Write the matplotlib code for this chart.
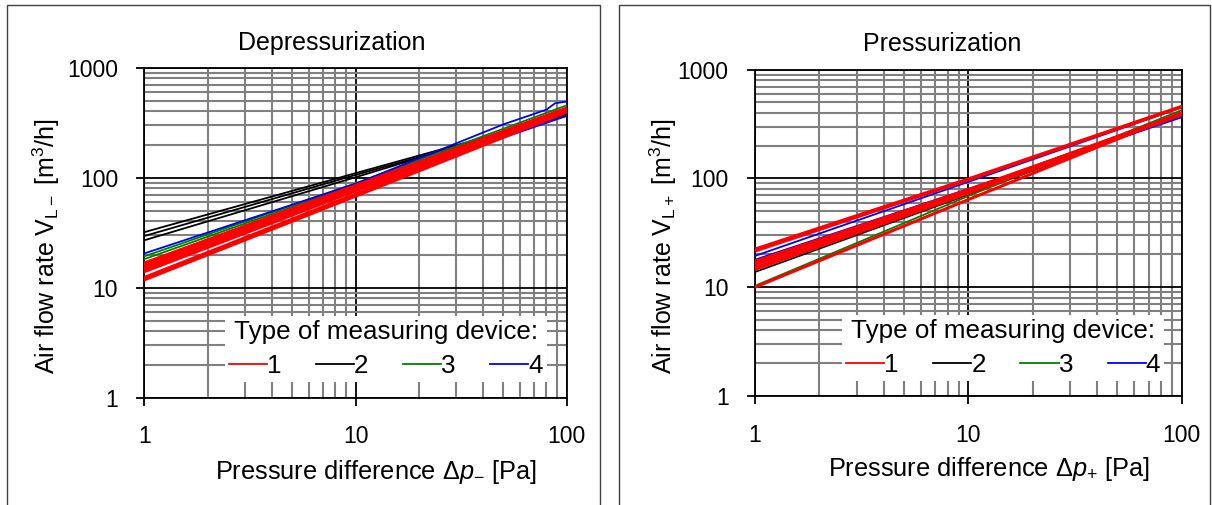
import matplotlib
matplotlib.use("Agg")
import matplotlib.pyplot as plt
from matplotlib.lines import Line2D
from matplotlib.patches import Rectangle
from matplotlib.ticker import FixedLocator, NullFormatter

plt.rcParams["font.family"] = ["Liberation Sans", "DejaVu Sans"]
plt.rcParams["mathtext.fontset"] = "custom"
plt.rcParams["mathtext.rm"] = "Liberation Sans"
plt.rcParams["mathtext.it"] = "Liberation Sans:italic"

# pressure differences [Pa] where values were read
DP = [1, 10, 100]

# Depressurization: air flow rate [m3/h] at DP, one list per measurement
dep_type1 = [[16.8, 85, 430], [16.0, 83, 420], [15.2, 80, 410], [14.6, 78, 405],
             [14.0, 76, 400], [12.4, 71, 410], [11.8, 68, 395]]
dep_type2 = [[32, 110, 375], [29.5, 106, 365], [27, 101, 385]]
dep_type3 = [[19.3, 89, 455], [18.2, 87, 430]]
dep_type4 = [[14.0, 80, 365]]
# one blue curve has a kink near the top end
dep_type4_kink_dp = [1, 10, 50, 80, 88, 100]
dep_type4_kink = [20.5, 88, 305, 415, 475, 492]

# Pressurization
pre_type1 = [[22.4, 99, 460], [21.5, 97, 455], [17.3, 79, 390], [16.3, 77, 400],
             [15.3, 75, 385], [14.6, 73, 395], [10.0, 64, 400]]
pre_type2 = [[13.8, 71, 380]]
pre_type3 = [[10.3, 69, 425]]
pre_type4 = [[19.4, 93, 450], [17.9, 80, 365]]

TYPE_LABELS = ["1", "2", "3", "4"]
TYPE_COLORS = ["#ff0000", "#000000", "#008000", "#0000ff"]


def style_axes(ax, xlabel, ylabel, ylab_x):
    ax.set_xscale("log")
    ax.set_yscale("log")
    ax.set_xlim(1, 100)
    ax.set_ylim(1, 1000)
    ax.xaxis.set_major_locator(FixedLocator([1, 10, 100]))
    ax.yaxis.set_major_locator(FixedLocator([1, 10, 100, 1000]))
    ax.set_xticklabels(["1", "10", "100"])
    ax.set_yticklabels(["1", "10", "100", "1000"])
    ax.xaxis.set_minor_formatter(NullFormatter())
    ax.yaxis.set_minor_formatter(NullFormatter())
    ax.grid(True, which="minor", color="#808080", lw=1.5, zorder=0)
    ax.grid(True, which="major", color="black", lw=1.3, zorder=1)
    ax.set_axisbelow(True)
    ax.tick_params(which="major", direction="out", length=6, width=1.3, labelsize=16.5)
    ax.tick_params(axis="x", which="major", pad=14)
    ax.tick_params(axis="y", which="major", pad=13)
    ax.tick_params(which="minor", length=0)
    for sp in ax.spines.values():
        sp.set_color("black")
        sp.set_linewidth(1.3)
    ax.set_xlabel(xlabel, fontsize=18.3)
    ax.set_ylabel(ylabel, fontsize=18)
    ax.xaxis.set_label_coords(0.547, -0.224)
    ax.xaxis.label.set_va("center")
    ax.yaxis.set_label_coords(ylab_x, 0.458)
    ax.yaxis.label.set_va("center")


def draw_panel(ax, groups, extra, leg_x):
    # draw black, green, blue, red so the red ones end up on top
    for idx in [1, 2, 3, 0]:
        lw = 2.2 if idx == 0 else 1.3
        for vals in groups[idx]:
            ax.plot(DP, vals, color=TYPE_COLORS[idx], lw=lw, zorder=3)
        if idx == 3 and extra is not None:
            ax.plot(extra[0], extra[1], color=TYPE_COLORS[3], lw=lw, zorder=3)
    handles = [Line2D([], [], color=c, lw=1.3) for c in TYPE_COLORS]
    leg = ax.legend(handles, TYPE_LABELS, title="Type of measuring device:", ncol=4,
                    loc="upper left", bbox_to_anchor=(leg_x, 0.248), borderaxespad=0,
                    fontsize=18.7, title_fontsize=18.7, handlelength=1.47, handletextpad=0.0,
                    columnspacing=1.33, frameon=True, fancybox=False, framealpha=1,
                    edgecolor="none", borderpad=0.15, labelspacing=0.4)
    leg.set_zorder(5)


fig = plt.figure(figsize=(12.12, 5.05), dpi=100)
ax1 = fig.add_axes([0.1192, 0.2125, 0.3485, 0.6535])
ax2 = fig.add_axes([0.6230, 0.2160, 0.3520, 0.6460])

draw_panel(ax1, [dep_type1, dep_type2, dep_type3, dep_type4], (dep_type4_kink_dp, dep_type4_kink), 0.19)
draw_panel(ax2, [pre_type1, pre_type2, pre_type3, pre_type4], None, 0.204)

style_axes(ax1, r"Pressure difference $\Delta p_{\mathregular{-}}$ [Pa]",
           r"Air flow rate V$_{\mathregular{L-}}$ [m$^{\mathregular{3}}$/h]", -0.232)
style_axes(ax2, r"Pressure difference $\Delta p_{\mathregular{+}}$ [Pa]",
           r"Air flow rate V$_{\mathregular{L+}}$ [m$^{\mathregular{3}}$/h]", -0.215)

# chart titles are centred over the whole chart area, not the plot box
fig.text(332 / 1212, 1 - 43 / 505, "Depressurization", fontsize=18, ha="center", va="center")
fig.text(942 / 1212, 1 - 44 / 505, "Pressurization", fontsize=18, ha="center", va="center")

# outer frames around each chart
for x0, x1 in [(7, 600), (619, 1210)]:
    fig.patches.append(Rectangle((x0 / 1212, -0.05), (x1 - x0) / 1212, (505 - 5) / 505 + 0.05,
                                 transform=fig.transFigure, fill=False,
                                 edgecolor="#404040", lw=1.0))

fig.savefig("out.png", dpi=100)
